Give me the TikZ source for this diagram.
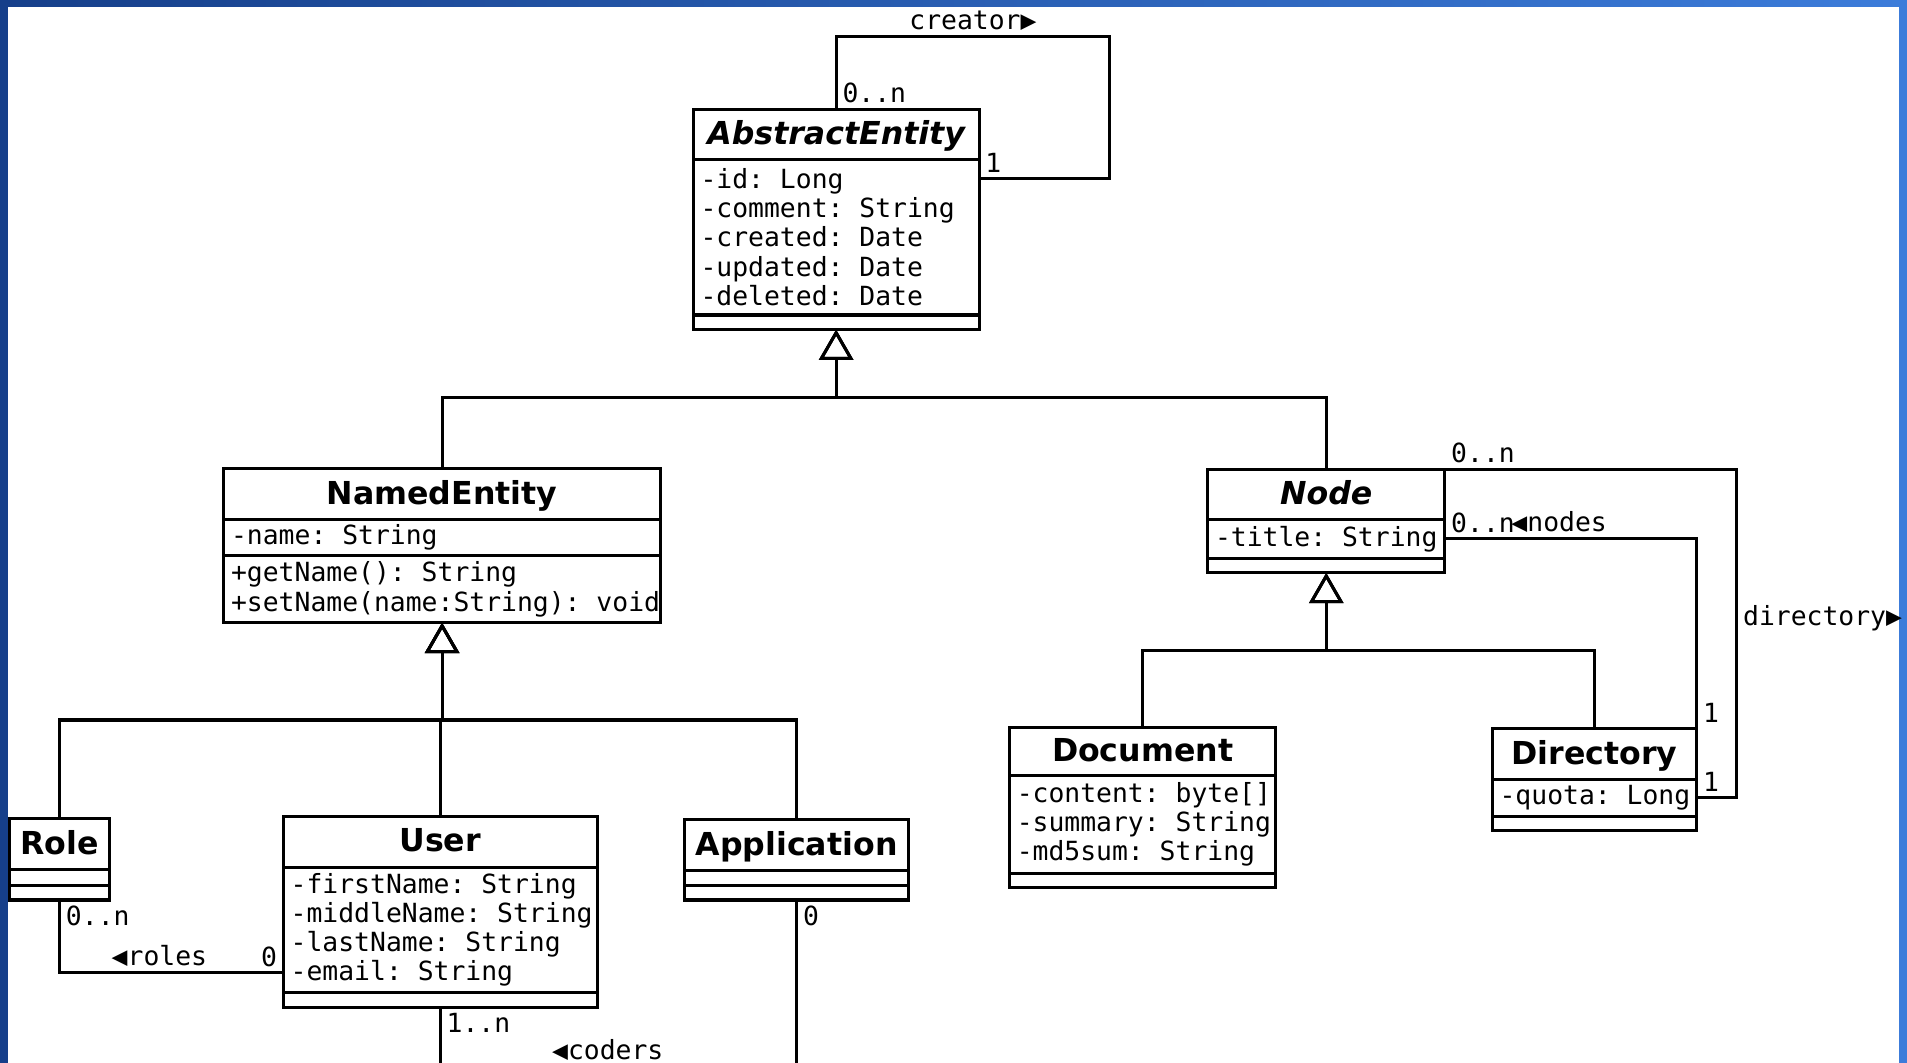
\documentclass[tikz,border=0pt]{standalone}
\usepackage{fontspec}
\setsansfont{DejaVu Sans}
\setmonofont{DejaVu Sans Mono}
\usepackage{tikz}
\usetikzlibrary{arrows.meta}
\definecolor{deskdark}{HTML}{163F8A}
\definecolor{desklight}{HTML}{3C7CDA}
\newcommand{\monosize}{\ttfamily\fontsize{21.7}{24}\selectfont}
\newcommand{\msp}{\hbox to 0.6021em{}}
\tikzset{
  cls/.style={draw, line width=2.5pt, anchor=north west, outer sep=0pt, inner sep=0pt,
    text height=19pt, text depth=2pt, font=\sffamily\bfseries\fontsize{26}{30}\selectfont},
  abscls/.style={cls, font=\sffamily\bfseries\itshape\fontsize{26}{30}\selectfont},
  members/.style={draw, line width=2.5pt, anchor=north west, outer sep=0pt, inner xsep=6pt,
    inner ysep=0pt, align=left, font=\monosize},
  mult/.style={font=\monosize, inner sep=4pt},
  assoc/.style={line width=2.5pt},
  gen/.style={line width=2.5pt, -{Triangle[open, length=25pt, width=28pt]}}
}

\begin{document}
\begin{tikzpicture}[x=1pt, y=-1pt]
\useasboundingbox (0,0) rectangle (1568,874);
\fill[white] (0,0) rectangle (1568,874);
\fill[deskdark] (0,0) rectangle (6.5,874);
\shade[left color=deskdark, right color=desklight] (0,0) rectangle (1568,5.7);
\fill[desklight] (1561,0) rectangle (1568,874);

% classes
\node[abscls, minimum width=235pt, minimum height=41pt] (ae) at (570,90) {AbstractEntity};
\node[members, text width=223pt, minimum height=128pt] (aeattr) at (ae.south west)
  {-id:\msp Long\\-comment:\msp String\\-created:\msp Date\\-updated:\msp Date\\-deleted:\msp Date};
\node[members, text width=223pt, minimum height=12pt] (aeops) at (aeattr.south west) {};

\node[cls, minimum width=359pt, minimum height=42pt] (ne) at (184,385) {NamedEntity};
\node[members, text width=347pt, minimum height=30pt] (neattr) at (ne.south west) {-name:\msp String};
\node[members, text width=347pt, minimum height=55pt] (neops) at (neattr.south west)
  {+getName():\msp String\\+setName(name:String):\msp void};

\node[abscls, minimum width=195pt, minimum height=41pt] (nd) at (993,386) {Node};
\node[members, text width=183pt, minimum height=32pt] (ndattr) at (nd.south west) {-title:\msp String};
\node[members, text width=183pt, minimum height=12pt] (ndops) at (ndattr.south west) {};

\node[cls, minimum width=82pt, minimum height=42pt] (rl) at (8,673) {Role};
\node[members, text width=70pt, minimum height=13pt] (rlattr) at (rl.south west) {};
\node[members, text width=70pt, minimum height=12pt] (rlops) at (rlattr.south west) {};

\node[cls, minimum width=258pt, minimum height=42pt] (us) at (233,671) {User};
\node[members, text width=246pt, minimum height=103pt] (usattr) at (us.south west)
  {-firstName:\msp String\\-middleName:\msp String\\-lastName:\msp String\\-email:\msp String};
\node[members, text width=246pt, minimum height=12pt] (usops) at (usattr.south west) {};

\node[cls, minimum width=184pt, minimum height=42pt] (ap) at (563,674) {Application};
\node[members, text width=172pt, minimum height=12pt] (apattr) at (ap.south west) {};
\node[members, text width=172pt, minimum height=12pt] (apops) at (apattr.south west) {};

\node[cls, minimum width=219pt, minimum height=40pt] (dc) at (830,598) {Document};
\node[members, text width=207pt, minimum height=80pt] (dcattr) at (dc.south west)
  {-content:\msp byte[]\\-summary:\msp String\\-md5sum:\msp String};
\node[members, text width=207pt, minimum height=12pt] (dcops) at (dcattr.south west) {};

\node[cls, minimum width=168pt, minimum height=42pt] (dr) at (1227,599) {Directory};
\node[members, text width=156pt, minimum height=30pt] (drattr) at (dr.south west) {-quota:\msp Long};
\node[members, text width=156pt, minimum height=12pt] (drops) at (drattr.south west) {};

% generalizations
\draw[gen] (ne.north) -- ++(0,-58) -| (aeops.south);
\draw[gen] (nd.north) -- ++(0,-59) -| (aeops.south);
\draw[gen] (rl.north) -- ++(0,-81) -| (neops.south);
\draw[gen] (us.north) -- ++(0,-79) -| (neops.south);
\draw[gen] (ap.north) -- ++(0,-82) -| (neops.south);
\draw[gen] (dc.north) -- ++(0,-63) -| (ndops.south);
\draw[gen] (dr.north) -- ++(0,-64) -| (ndops.south);

% associations
\coordinate (aein) at ([yshift=-16pt]aeattr.north east);
\coordinate (usin) at ([yshift=16pt]usattr.south west);
\draw[assoc] (ae.north) node[mult, anchor=south west] (crmany) {0..n}
  |- ++(225,-60) node[mult, pos=0.75, above] (crname) {creator▶}
  |- (aein) node[mult, anchor=south west] (crone) {1};
\draw[assoc] (rlops.south) node[mult, anchor=north west] (romany) {0..n}
  |- node[mult, pos=0.723, above] (roname) {◀roles}
  (usin) node[mult, anchor=south east] (roone) {0};
\draw[assoc] (usops.south) node[mult, anchor=north west] (comany) {1..n}
  -- ++(0,49) -| node[mult, pos=0.235, above] (coname) {◀coders}
  (apops.south) node[mult, anchor=north west] (coone) {0};
\draw[assoc] (ndattr.east) node[mult, anchor=south west] (nomany) {0..n}
  -| node[mult, pos=0.227, above] (noname) {◀nodes}
  (dr.north east) node[mult, anchor=south west] (noone) {1};
\draw[assoc] (nd.north east) node[mult, anchor=south west] (dimany) {0..n}
  -- ++(240,0) |- node[mult, pos=0.226, right] (diname) {directory▶}
  (drattr.east) node[mult, anchor=south west] (dione) {1};
\end{tikzpicture}
\end{document}
